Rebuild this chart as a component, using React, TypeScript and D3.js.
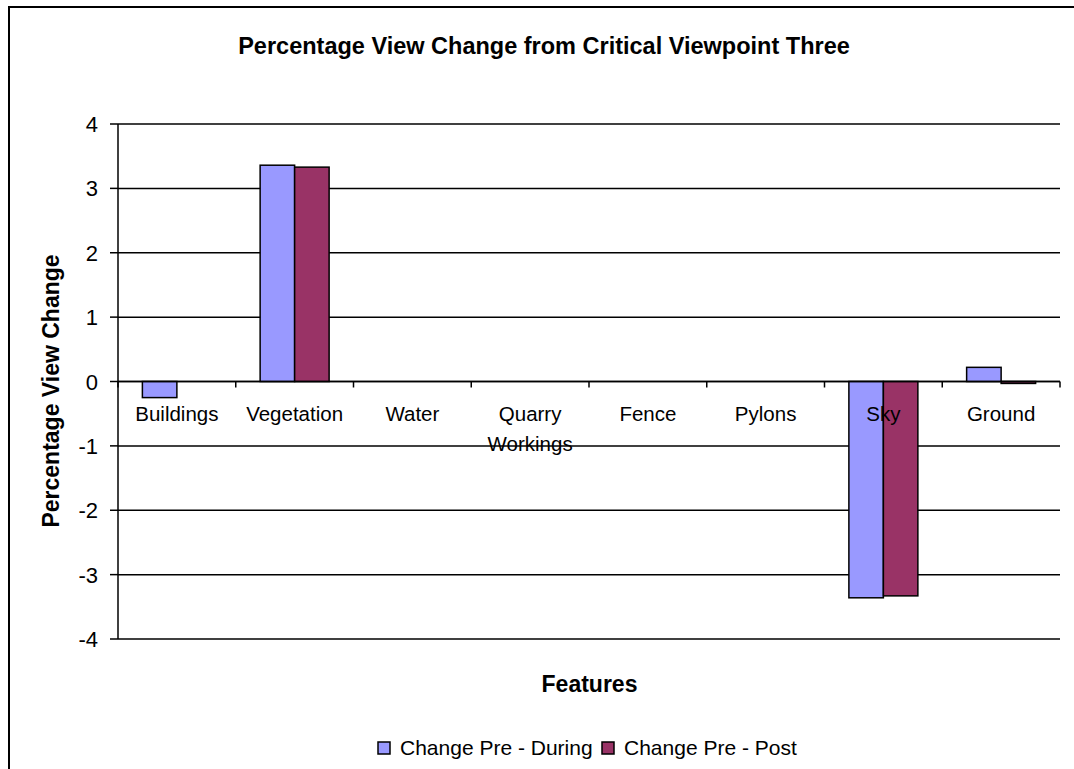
import React from "react";
import * as d3 from "d3";

const categories = ["Buildings", "Vegetation", "Water", "Quarry Workings", "Fence", "Pylons", "Sky", "Ground"];
const categoryLines: string[][] = [["Buildings"], ["Vegetation"], ["Water"], ["Quarry", "Workings"], ["Fence"], ["Pylons"], ["Sky"], ["Ground"]];
const seriesNames = ["Change Pre - During", "Change Pre - Post"];
const preDuring = [-0.25, 3.36, 0, 0, 0, 0, -3.36, 0.22];
const prePost = [0, 3.33, 0, 0, 0, 0, -3.33, -0.03];
const yTicks = [-4, -3, -2, -1, 0, 1, 2, 3, 4];
const colors = ["#9999FF", "#993366"];

const W = 1074;
const H = 769;
const plot = { left: 118, right: 1060, top: 124, bottom: 639 };
const FONT = "'Liberation Sans', Arial, Helvetica, sans-serif";

export default function App() {
  const x = d3.scaleBand<string>().domain(categories).range([plot.left, plot.right]).paddingInner(0).paddingOuter(0);
  const xs = d3.scaleBand<string>().domain(seriesNames).range([0, x.bandwidth()]).paddingInner(0).paddingOuter(0.707);
  const y = d3.scaleLinear().domain([-4, 4]).range([plot.bottom, plot.top]);
  const series = [preDuring, prePost];
  const y0 = y(0);
  const boundaries = categories.map((c) => x(c) as number).concat([plot.right]);

  return (
    <svg width={W} height={H} style={{ position: "absolute", left: 0, top: 0, background: "#fff" }} fontFamily={FONT}>
      <rect x={0} y={0} width={W} height={H} fill="#fff" />
      <rect x={9} y={7} width={W + 20} height={H + 20} fill="none" stroke="#000" strokeWidth={2} />
      <text x={544} y={54} textAnchor="middle" fontWeight="bold" fontSize={23.5}>
        Percentage View Change from Critical Viewpoint Three
      </text>
      {/* gridlines */}
      {yTicks.map((t) => (
        <line key={"g" + t} x1={plot.left} x2={plot.right} y1={y(t)} y2={y(t)} stroke="#000" strokeWidth={1.5} />
      ))}
      {/* y axis ticks and labels */}
      {yTicks.map((t) => (
        <g key={"t" + t}>
          <line x1={110} x2={plot.left} y1={y(t)} y2={y(t)} stroke="#000" strokeWidth={1.5} />
          <text x={98} y={y(t) + 8} textAnchor="end" fontSize={22}>
            {t}
          </text>
        </g>
      ))}
      {/* bars */}
      {series.map((vals, si) =>
        vals.map((v, i) => {
          const bx = (x(categories[i]) as number) + (xs(seriesNames[si]) as number);
          const top = Math.min(y(v), y0);
          const h = Math.abs(y(v) - y0);
          if (h < 0.01) return null;
          return (
            <rect key={si + "-" + i} x={bx} y={top} width={xs.bandwidth()} height={h} fill={colors[si]} stroke="#000" strokeWidth={1.5} />
          );
        })
      )}
      {/* y axis line */}
      <line x1={plot.left} x2={plot.left} y1={plot.top} y2={plot.bottom} stroke="#000" strokeWidth={1.5} />
      {/* x axis at zero */}
      <line x1={plot.left} x2={plot.right} y1={y0} y2={y0} stroke="#000" strokeWidth={1.5} />
      {boundaries.map((bx, i) => (
        <line key={"xt" + i} x1={bx} x2={bx} y1={y0} y2={y0 + 6} stroke="#000" strokeWidth={1.5} />
      ))}
      {/* category labels */}
      {categories.map((c, i) => (
        <text key={"c" + c} x={(x(c) as number) + x.bandwidth() / 2} y={421} textAnchor="middle" fontSize={20.5}>
          {categoryLines[i].map((ln, li) => (
            <tspan key={li} x={(x(c) as number) + x.bandwidth() / 2} y={421 + li * 30}>
              {ln}
            </tspan>
          ))}
        </text>
      ))}
      {/* axis titles */}
      <text transform={`translate(59,391) rotate(-90)`} textAnchor="middle" fontWeight="bold" fontSize={23}>
        Percentage View Change
      </text>
      <text x={589.5} y={692} textAnchor="middle" fontWeight="bold" fontSize={23}>
        Features
      </text>
      {/* legend */}
      {seriesNames.map((s, i) => {
        const lx = [378, 602][i];
        return (
          <g key={"l" + s}>
            <rect x={lx} y={742} width={12} height={12} fill={colors[i]} stroke="#000" strokeWidth={1.5} />
            <text x={lx + 22} y={755} fontSize={21}>
              {s}
            </text>
          </g>
        );
      })}
    </svg>
  );
}
